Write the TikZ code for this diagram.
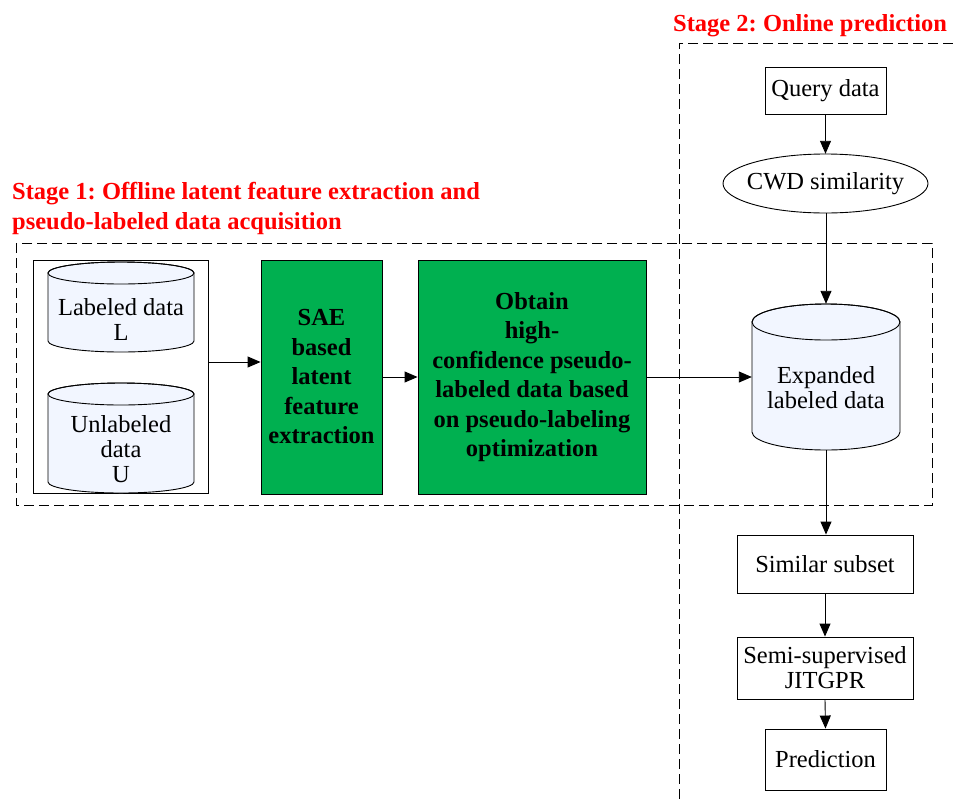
\documentclass[tikz,border=0pt]{standalone}
\usepackage{fontspec}
\setmainfont{Liberation Serif}
\usetikzlibrary{shapes.geometric,arrows.meta,calc}
\definecolor{gbox}{RGB}{0,176,80}
\definecolor{cylfill}{RGB}{242,246,255}
\definecolor{titred}{RGB}{255,0,0}
\frenchspacing
\begin{document}
\begin{tikzpicture}[x=1pt,y=-1pt,
 every node/.style={font=\fontsize{24.5}{25}\selectfont, inner sep=0pt},
 plainbox/.style={draw, line width=0.9pt, align=center},
 greenbox/.style={draw, fill=gbox, line width=0.9pt, align=center, font=\fontsize{24.5}{29.5}\selectfont\bfseries},
 arr/.style={-{Triangle[length=13pt,width=11pt]}, line width=0.9pt},
 stagebox/.style={dash pattern=on 10pt off 5pt, line width=0.8pt},
 title/.style={text=titred, font=\fontsize{24.5}{30}\selectfont\bfseries, align=left},
 cyl/.style={draw, fill=cylfill, line width=0.9pt}]
\useasboundingbox (0,0) rectangle (953,801);

% stage frames
\draw[stagebox] (16,243) rectangle (932,505);
\draw[stagebox] (953,43) -- (679,43) -- (679,801);

% titles
\node[title, anchor=west] (t2) at (673,26) {Stage 2: Online prediction};
\node[title, anchor=west] (t1) at (12,208) {Stage 1: Offline latent feature extraction and\\pseudo-labeled data acquisition};

% container with two cylinders
\node[plainbox, minimum width=175pt, minimum height=233pt] (cont) at (120.5,376.5) {};
\draw[cyl] (48,273) -- (48,341) arc[start angle=180, end angle=360, x radius=73pt, y radius=11pt]
  -- (194,273) arc[start angle=0, end angle=180, x radius=73pt, y radius=11pt] -- cycle;
\draw[line width=0.9pt] (121,273) ellipse[x radius=73pt, y radius=11pt];
\node[align=center] (lab) at (121,319) {Labeled data\\L};

\draw[cyl] (48,394) -- (48,482) arc[start angle=180, end angle=360, x radius=73pt, y radius=11pt]
  -- (194,394) arc[start angle=0, end angle=180, x radius=73pt, y radius=11pt] -- cycle;
\draw[line width=0.9pt] (121,394) ellipse[x radius=73pt, y radius=11pt];
\node[align=center] (unl) at (121,449) {Unlabeled\\data\\U};

% green boxes
\node[greenbox, minimum width=121pt, minimum height=234pt] (sae) at (321.5,377) {SAE\\based\\latent\\feature\\extraction};
\node[greenbox, minimum width=228pt, minimum height=234pt] (obt) at (532,377) {Obtain\\high-\\confidence pseudo-\\labeled data based\\on pseudo-labeling\\optimization};

% expanded labeled data cylinder
\draw[cyl] (752,322) -- (752,432) arc[start angle=180, end angle=360, x radius=74pt, y radius=18pt]
  -- (900,322) arc[start angle=0, end angle=180, x radius=74pt, y radius=18pt] -- cycle;
\draw[line width=0.9pt] (826,322) ellipse[x radius=74pt, y radius=18pt];
\node[minimum width=148pt, minimum height=146pt] (exp) at (826,377) {};
\node[align=center] (expt) at (826,388) {Expanded\\labeled data};

% stage 2 nodes
\node[plainbox, minimum width=121pt, minimum height=47pt] (query) at (825.5,90.5) {Query data};
\node[minimum width=205pt, minimum height=59pt] (cwd) at (825.5,183.5) {CWD similarity};
\draw[line width=0.9pt] (cwd.center) ellipse[x radius=102.5pt, y radius=29.5pt];
\node[plainbox, minimum width=176pt, minimum height=58pt] (sim) at (825,564) {Similar subset};
\node[plainbox, minimum width=176pt, minimum height=62pt] (semi) at (825,668) {Semi-supervised\\JITGPR};
\node[plainbox, minimum width=121pt, minimum height=61pt] (pred) at (825.5,759.5) {Prediction};

% connectors
\draw[arr] (cont.east |- 0,362) -- (sae.west |- 0,362);
\draw[arr] (sae.east) -- (obt.west);
\draw[arr] (obt.east) -- (exp.west);
\draw[arr] (query.south) -- (cwd.north);
\draw[arr] (cwd.south -| exp.north) -- (exp.north);
\draw[arr] (exp.south) -- (sim.north -| exp.south);
\draw[arr] (sim.south) -- (semi.north);
\draw[arr] (semi.south) -- (pred.north);
\end{tikzpicture}
\end{document}
